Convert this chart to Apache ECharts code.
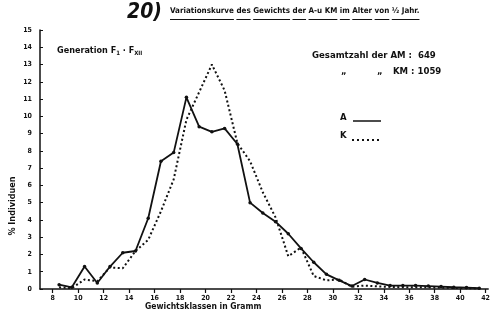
<!DOCTYPE html>
<html>
<head>
<meta charset="utf-8">
<script src="https://cdn.jsdelivr.net/npm/echarts@6/dist/echarts.min.js"></script>
<style>
html, body { margin: 0; padding: 0; background: #fff; }
#chart { width: 493px; height: 321px; }
</style>
</head>
<body>
<div id="chart"></div>
<script>
// weight classes (class middles, grams)
var classMid = [8.5, 9.5, 10.5, 11.5, 12.5, 13.5, 14.5, 15.5, 16.5, 17.5, 18.5, 19.5, 20.5, 21.5,
    22.5, 23.5, 24.5, 25.5, 26.5, 27.5, 28.5, 29.5, 30.5, 31.5, 32.5, 33.5, 34.5, 35.5, 36.5,
    37.5, 38.5, 39.5, 40.5, 41.5];
// % Individuen, A (solid)
var valuesA = [0.25, 0.1, 1.3, 0.35, 1.3, 2.1, 2.2, 4.1, 7.4, 7.9, 11.1, 9.4, 9.1, 9.3,
    8.4, 5.0, 4.4, 3.9, 3.2, 2.35, 1.55, 0.85, 0.5, 0.17, 0.55, 0.35, 0.2, 0.2, 0.2,
    0.17, 0.14, 0.1, 0.08, 0.05];
// % Individuen, K (dotted)
var valuesK = [0.1, 0.05, 0.55, 0.45, 1.25, 1.2, 2.2, 2.85, 4.5, 6.35, 9.8, 11.4, 13.0, 11.5,
    8.45, 7.4, 5.6, 4.15, 1.9, 2.4, 0.75, 0.5, 0.55, 0.13, 0.2, 0.15, 0.12, 0.1, 0.1,
    0.1, 0.08, 0.06, 0.05, 0.03];
var xTicks = [8, 10, 12, 14, 16, 18, 20, 22, 24, 26, 28, 30, 32, 34, 36, 38, 40, 42];
var yTicks = [0, 1, 2, 3, 4, 5, 6, 7, 8, 9, 10, 11, 12, 13, 14, 15];
var titleWords = ['Variationskurve', 'des', 'Gewichts', 'der', 'A-u KM', 'im', 'Alter', 'von', '½ Jahr.'];

var FONT = '"DejaVu Sans Condensed", "Liberation Sans Narrow", sans-serif';
var INK = '#111';

function pairs(xs, ys) {
    var out = [];
    for (var i = 0; i < xs.length; i++) out.push([xs[i], ys[i]]);
    return out;
}

// title: fit to width, underline each word
var ctx = document.createElement('canvas').getContext('2d');
var titleText = titleWords.join(' ');
ctx.font = 'bold 10px ' + FONT;
var titleSize = 10 * 250 / ctx.measureText(titleText).width;
ctx.font = 'bold ' + titleSize + 'px ' + FONT;
var titleLeft = 170, underlineY = 19.5;
var underlines = [];
var prefix = '';
titleWords.forEach(function (w) {
    var x0 = titleLeft + ctx.measureText(prefix).width;
    var x1 = x0 + ctx.measureText(w).width;
    underlines.push({
        type: 'line',
        shape: { x1: x0, y1: underlineY, x2: x1, y2: underlineY },
        style: { stroke: INK, lineWidth: 1 }
    });
    prefix += w + ' ';
});

var myChart = echarts.init(document.getElementById('chart'), null, { renderer: 'canvas' });

var option = {
    backgroundColor: '#fff',
    animation: false,
    grid: { left: 40, right: 0, top: 30, bottom: 32 },
    xAxis: {
        type: 'value',
        min: 7,
        max: 42.2,
        axisLine: { show: true, onZero: false, lineStyle: { color: INK, width: 1.5 } },
        axisTick: { show: true, customValues: xTicks, length: 4, lineStyle: { color: INK, width: 1.2 } },
        axisLabel: {
            customValues: xTicks,
            color: INK, fontFamily: FONT, fontWeight: 'bold', fontSize: 7, margin: 6
        },
        splitLine: { show: false }
    },
    yAxis: {
        type: 'value',
        min: 0,
        max: 15,
        axisLine: { show: true, lineStyle: { color: INK, width: 1.5 } },
        axisTick: { show: true, inside: true, customValues: yTicks, length: 3, lineStyle: { color: INK, width: 1 } },
        axisLabel: {
            customValues: yTicks,
            color: INK, fontFamily: FONT, fontWeight: 'bold', fontSize: 7, margin: 8
        },
        splitLine: { show: false }
    },
    series: [
        {
            name: 'A',
            type: 'line',
            data: pairs(classMid, valuesA),
            symbol: 'circle',
            symbolSize: 3.5,
            itemStyle: { color: INK },
            lineStyle: { color: INK, width: 1.8 },
            z: 3
        },
        {
            name: 'K',
            type: 'line',
            data: pairs(classMid, valuesK),
            symbol: 'none',
            lineStyle: { color: INK, width: 2, type: [2, 2.5] },
            z: 2
        }
    ],
    graphic: [
        {
            type: 'text', left: 127, top: 2,
            style: { text: '20)', fill: INK, font: 'italic bold 21px ' + FONT }
        },
        {
            type: 'text', x: titleLeft, y: 7,
            style: { text: titleText, fill: INK, font: 'bold ' + titleSize + 'px ' + FONT }
        }
    ].concat(underlines).concat([
        {
            type: 'text', left: 57, top: 46,
            style: {
                text: 'Generation F{s|1} · F{s|XII}',
                fill: INK, font: 'bold 9px ' + FONT,
                rich: { s: { fontSize: 6, fontWeight: 'bold', fontFamily: FONT, padding: [5, 0, 0, 0] } }
            }
        },
        {
            type: 'text', left: 312, top: 51,
            style: { text: 'Gesamtzahl der AM :  649', fill: INK, font: 'bold 9.5px ' + FONT }
        },
        {
            type: 'text', left: 341, top: 67,
            style: { text: '„', fill: INK, font: 'bold 9.5px ' + FONT }
        },
        {
            type: 'text', left: 377, top: 67,
            style: { text: '„', fill: INK, font: 'bold 9.5px ' + FONT }
        },
        {
            type: 'text', left: 393, top: 67,
            style: { text: 'KM : 1059', fill: INK, font: 'bold 9.5px ' + FONT }
        },
        {
            type: 'text', left: 340, top: 113,
            style: { text: 'A', fill: INK, font: 'bold 9.5px ' + FONT }
        },
        {
            type: 'line', shape: { x1: 353, y1: 121, x2: 381, y2: 121 },
            style: { stroke: INK, lineWidth: 1.5 }
        },
        {
            type: 'text', left: 340, top: 131,
            style: { text: 'K', fill: INK, font: 'bold 9.5px ' + FONT }
        },
        {
            type: 'line', shape: { x1: 352, y1: 140, x2: 380, y2: 140 },
            style: { stroke: INK, lineWidth: 1.8, lineDash: [2, 3] }
        },
        {
            type: 'text', x: 13, y: 206, rotation: Math.PI / 2,
            style: {
                text: '% Individuen', fill: INK, font: 'bold 9px ' + FONT,
                textAlign: 'center', textVerticalAlign: 'middle'
            }
        },
        {
            type: 'text', left: 145, top: 302,
            style: { text: 'Gewichtsklassen in Gramm', fill: INK, font: 'bold 8.5px ' + FONT }
        }
    ])
};

myChart.setOption(option);
</script>
</body>
</html>
